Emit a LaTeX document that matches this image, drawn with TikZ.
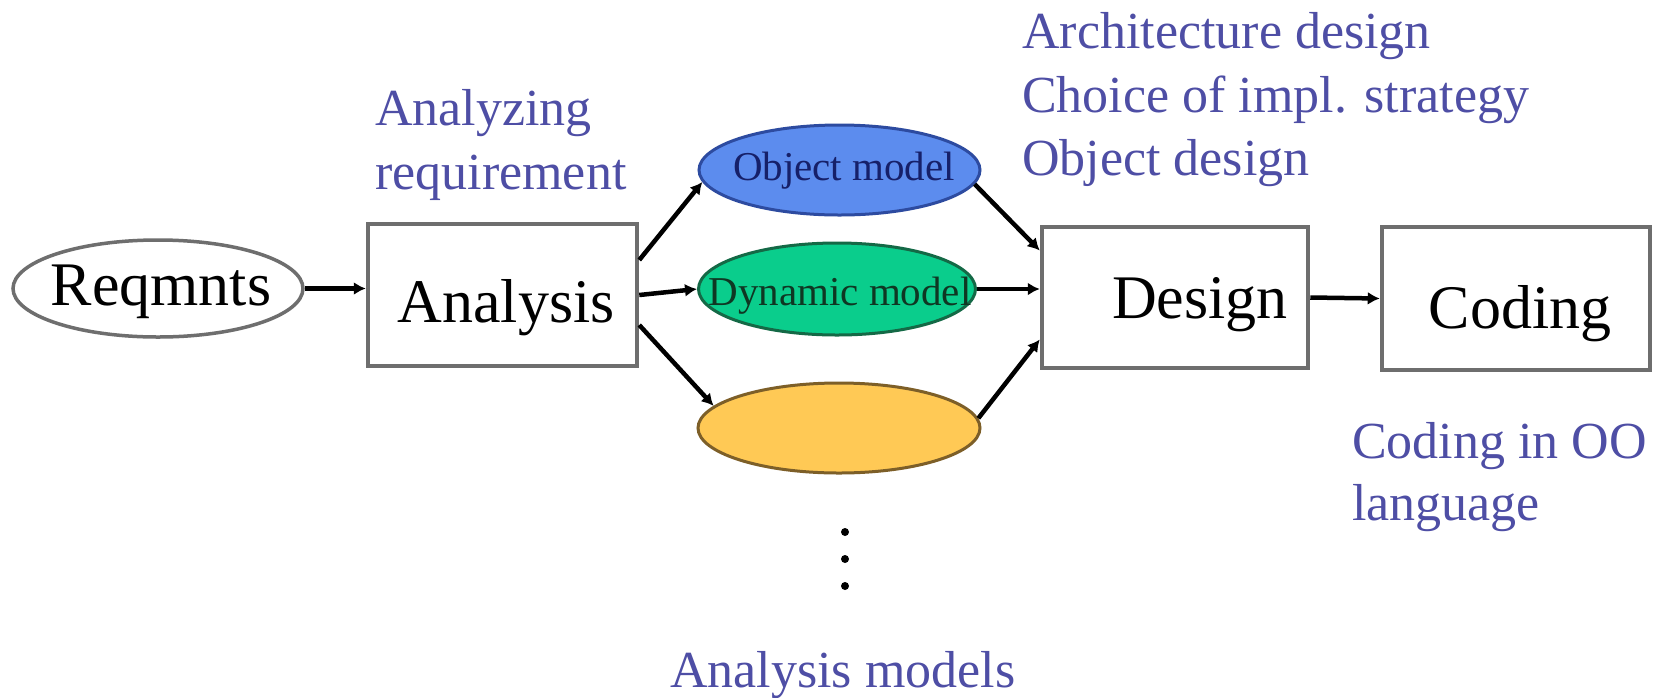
\documentclass[tikz,border=0pt]{standalone}
\usepackage{fontspec}
\setmainfont{Liberation Serif}
\usetikzlibrary{shapes.geometric,arrows.meta}
\definecolor{lblblue}{RGB}{78,78,165}
\definecolor{boxgray}{RGB}{110,110,110}
\definecolor{objfill}{RGB}{92,140,238}
\definecolor{objline}{RGB}{45,75,160}
\definecolor{objtext}{RGB}{22,32,105}
\definecolor{dynfill}{RGB}{10,205,140}
\definecolor{dynline}{RGB}{20,105,70}
\definecolor{dyntext}{RGB}{15,55,35}
\definecolor{yelfill}{RGB}{255,201,85}
\definecolor{yelline}{RGB}{125,95,40}
\begin{document}
\begin{tikzpicture}[x=1pt,y=-1pt,
  bigtext/.style={font=\fontsize{62}{70}\selectfont, inner sep=0pt, anchor=base, text=black},
  lbltext/.style={font=\fontsize{52}{63}\selectfont, inner sep=0pt, anchor=base west, text=lblblue},
  modtext/.style={font=\fontsize{41}{48}\selectfont, inner sep=0pt, anchor=base},
  stepbox/.style={draw=boxgray, line width=4.5pt, fill=white, rectangle, inner sep=0pt},
  modell/.style={ellipse, line width=3pt, inner sep=0pt, minimum width=281pt, minimum height=90pt},
  conn/.style={line width=4.5pt, -{Latex[length=12pt,width=13pt]}}
]
\useasboundingbox[fill=white] (0,0) rectangle (1661,697);

% shapes
\node[ellipse, draw=boxgray, line width=3.5pt, minimum width=290pt, minimum height=97pt, inner sep=0pt] (req) at (158,288.5) {};
\node[stepbox, minimum width=269pt, minimum height=142pt] (ana) at (502.5,295) {};
\node[stepbox, minimum width=266pt, minimum height=141pt] (des) at (1175,297.5) {};
\node[stepbox, minimum width=268pt, minimum height=143pt] (cod) at (1516,298.5) {};
\node[modell, draw=objline, fill=objfill] (obj) at (839.5,170) {};
\node[modell, draw=dynline, fill=dynfill, minimum width=277pt, minimum height=92pt] (dyn) at (837,289) {};
\node[modell, draw=yelline, fill=yelfill, minimum width=282pt] (yel) at (839,428) {};

% texts in shapes
\node[bigtext] (treq) at (161,305) {Reqmnts};
\node[bigtext] (tana) at (506,322) {Analysis};
\node[bigtext] (tdes) at (1200,318) {Design};
\node[bigtext] (tcod) at (1520,328) {Coding};
\node[modtext, text=objtext] (tobj) at (844,180) {Object model};
\node[modtext, text=dyntext] (tdyn) at (840,305) {Dynamic model};

% connectors
\draw[conn] (req.east) -- (req.east -| ana.west);
\draw[conn] ([yshift=35pt]ana.east) -- (obj.185);
\draw[conn] (ana.east) -- (dyn.west);
\draw[conn] ([yshift=-30pt]ana.east) -- (yel.170);
\draw[conn] (obj.-6) -- ([yshift=47pt]des.west);
\draw[conn] (dyn.east) -- (dyn.east -| des.west);
\draw[conn] (yel.4) -- ([yshift=-42pt]des.west);
\draw[conn] (des.east) -- (cod.west);

% dots
\fill[black] (845,532) circle[radius=4pt];
\fill[black] (845,559) circle[radius=4pt];
\fill[black] (845,586) circle[radius=4pt];

% blue labels
\node[lbltext] (la1) at (375,125) {Analyzing};
\node[lbltext] (la2) at (375,189) {requirement};
\node[lbltext] (ld1) at (1022,48) {Architecture design};
\node[lbltext] (ld2) at (1022,112) {Choice of impl. strategy};
\node[lbltext] (ld3) at (1022,175) {Object design};
\node[lbltext] (lc1) at (1352,458) {Coding in OO};
\node[lbltext] (lc2) at (1352,520) {language};
\node[lbltext] (lm) at (670,687) {Analysis models};
\end{tikzpicture}
\end{document}
